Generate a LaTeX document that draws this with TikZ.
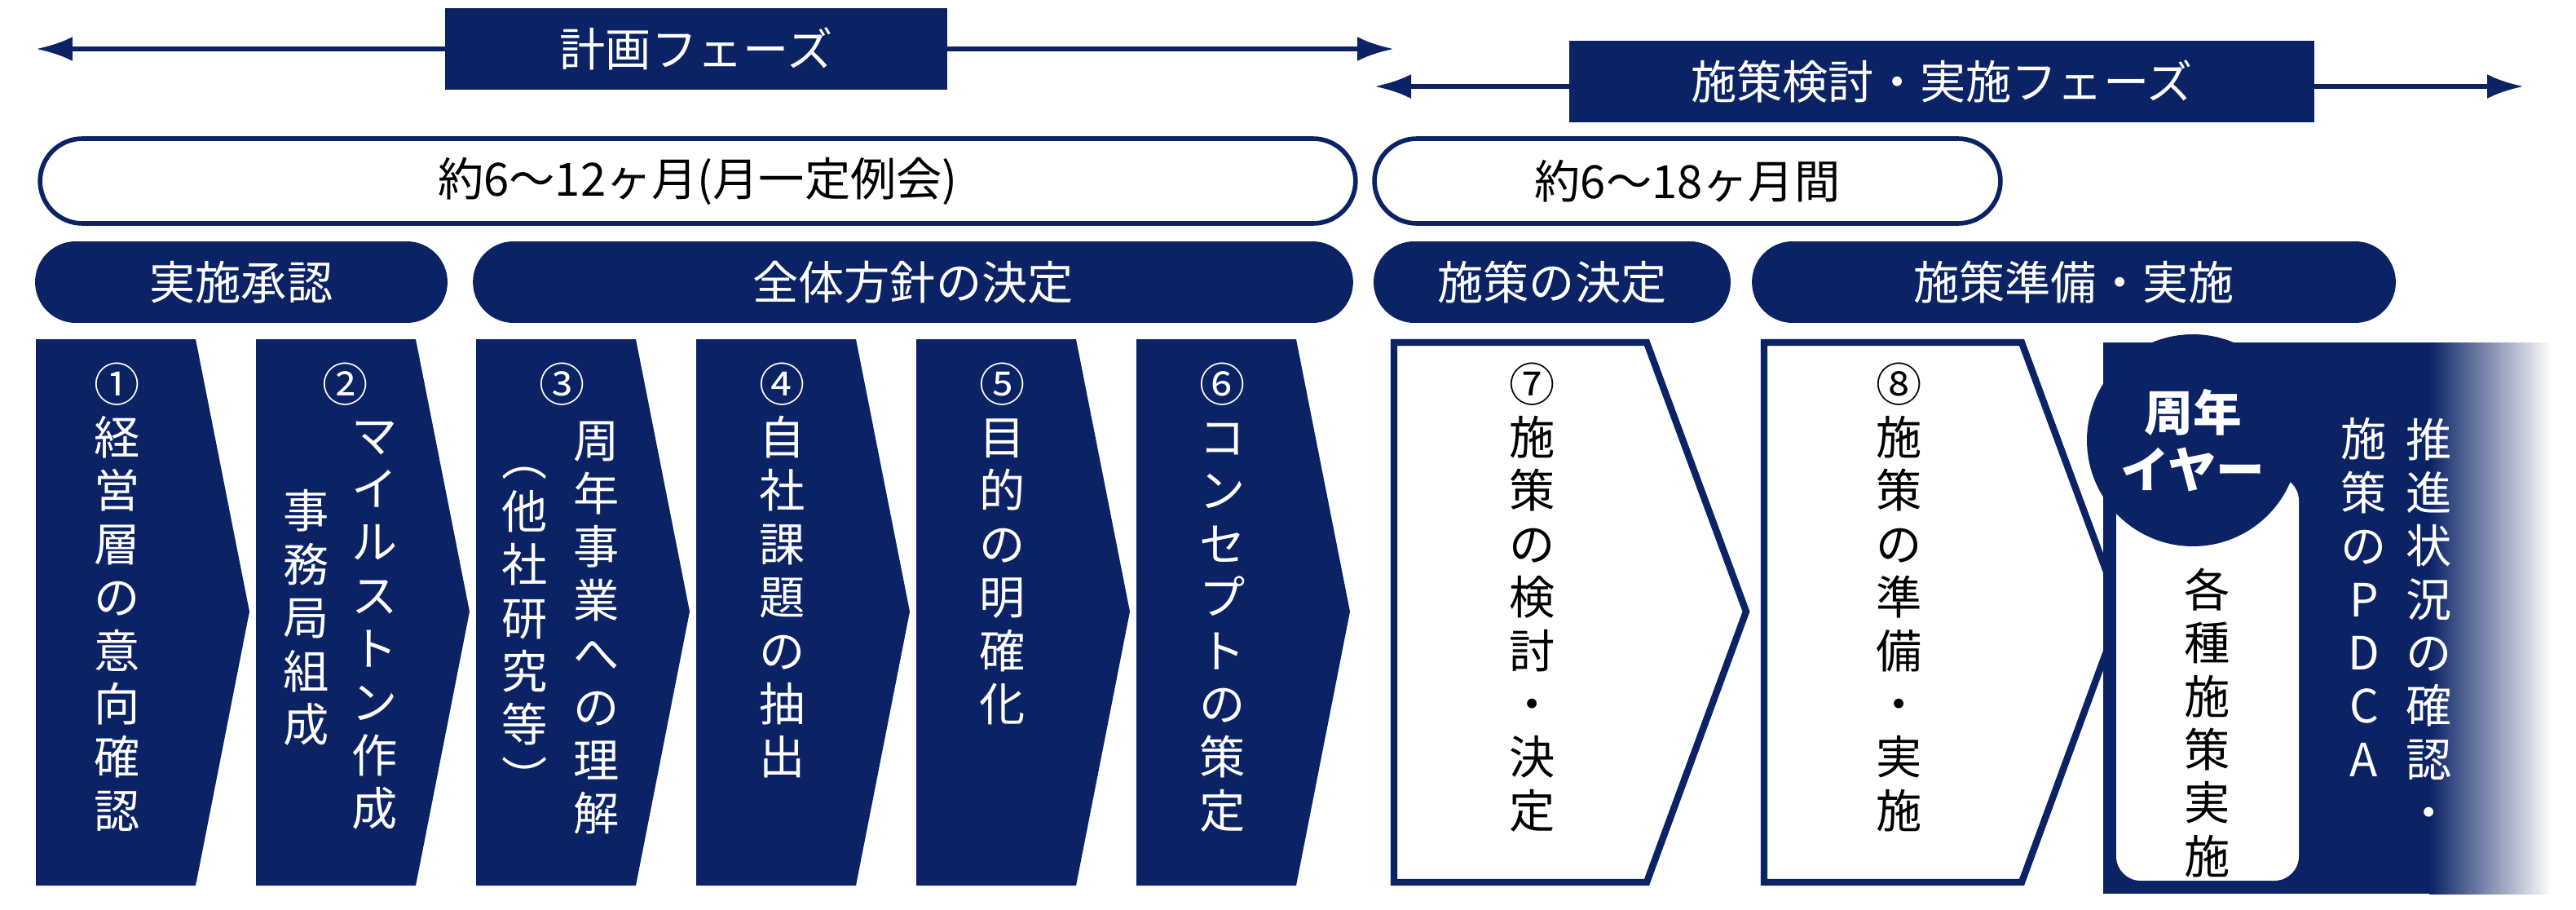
\documentclass[tikz,border=0pt]{standalone}
\usepackage{fontspec}
\setmainfont{Noto Sans CJK JP}
\usetikzlibrary{arrows.meta}
\definecolor{Navy}{HTML}{0B2265}
\def\vchars#1{\ifx#1\relax\else\hbox to 1.1em{\hss#1\hss}\expandafter\vchars\fi}
\newcommand\vtext[1]{\vbox{\baselineskip=18.6pt\vchars#1\relax}}
\tikzset{
  jp/.style={font=\fontsize{16}{18.6}\selectfont},
  phase/.style={fill=Navy,text=white,jp,minimum height=1cm,inner sep=0pt},
  span/.style={draw=Navy,line width=1.6pt,fill=white,rounded corners=0.52cm,jp,minimum height=1.04cm},
  pill/.style={fill=Navy,text=white,rounded corners=0.5cm,jp,minimum height=1cm},
  col/.style={jp,anchor=north,inner sep=0pt},
  span arrow/.style={draw=Navy,line width=1.8pt,{Latex[length=0.45cm,width=0.3cm]}-{Latex[length=0.45cm,width=0.3cm]}}
}
\begin{document}
\begin{tikzpicture}[x=0.02cm,y=-0.02cm]
\useasboundingbox (0,0) rectangle (1580,558);
% phases
\coordinate (pa) at (22,30); \coordinate (pb) at (855,30);
\draw[span arrow] (pa) -- (pb);
\node[phase,minimum width=6.16cm] (plan) at (427,30) {計画フェーズ};
\coordinate (qa) at (843,53); \coordinate (qb) at (1548,53);
\draw[span arrow] (qa) -- (qb);
\node[phase,minimum width=9.14cm] (exec) at (1191,50) {施策検討・実施フェーズ};
% durations
\node[span,minimum width=16.14cm] (dur1) at (428,111) {約6〜12ヶ月(月一定例会)};
\node[span,minimum width=7.68cm] (dur2) at (1035,111) {約6〜18ヶ月間};
% stages
\node[pill,minimum width=5.06cm] (s1) at (148,173) {実施承認};
\node[pill,minimum width=10.8cm] (s2) at (560,173) {全体方針の決定};
\node[pill,minimum width=4.38cm] (s3) at (952,173) {施策の決定};
\node[pill,minimum width=7.9cm] (s4) at (1272,173) {施策準備・実施};
% navy steps
\foreach \x in {22,157,292,427,562,697}
  \fill[Navy] (\x,208) -- ++(98,0) -- ++(33,167) -- ++(-33,168) -- ++(-98,0) -- cycle;
% white steps
\draw[Navy,line width=2.4pt,fill=white] (855,210) -- (1010,210) -- (1071,375) -- (1010,541) -- (855,541) -- cycle;
\draw[Navy,line width=2.4pt,fill=white] (1082,210) -- (1240,210) -- (1301,375) -- (1240,541) -- (1082,541) -- cycle;
% anniversary year
\fill[Navy] (1290,210) rectangle (1492,548);
\shade[left color=Navy,right color=white] (1490,210) rectangle (1565,548);
\fill[white,rounded corners=0.3cm] (1298,292) rectangle (1410,540);
\node[circle,fill=Navy,minimum size=2.6cm,text=white,align=center,inner sep=0pt,
  font=\fontsize{17}{20}\bfseries\selectfont] (year) at (1345,270) {周年\\イヤー};
% texts
\begin{scope}[every node/.style={col,text=white}]
  \node (t1) at (72,222) {\vtext{①経営層の意向確認}};
  \node (n2) at (212,222) {②};
  \node (t2a) at (230,258) {\vtext{マイルストン作成}};
  \node (t2b) at (188,300) {\vtext{事務局組成}};
  \node (n3) at (345,222) {③};
  \node (t3a) at (366,258) {\vtext{周年事業への理解}};
  \node (t3b) at (322,286) {\vtext{︵他社研究等︶}};
  \node (t4) at (480,222) {\vtext{④自社課題の抽出}};
  \node (t5) at (615,222) {\vtext{⑤目的の明確化}};
  \node (t6) at (750,222) {\vtext{⑥コンセプトの策定}};
  \node (t9a) at (1490,256) {\vtext{推進状況の確認・}};
  \node (t9b) at (1450,256) {\vtext{施策のPDCA}};
\end{scope}
\begin{scope}[every node/.style={col,text=black}]
  \node (t7) at (940,222) {\vtext{⑦施策の検討・決定}};
  \node (t8) at (1165,222) {\vtext{⑧施策の準備・実施}};
  \node (t10) at (1354,348) {\vtext{各種施策実施}};
\end{scope}
\end{tikzpicture}
\end{document}
